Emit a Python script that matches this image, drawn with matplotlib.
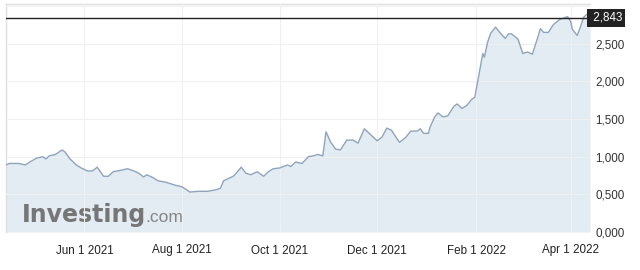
import matplotlib
matplotlib.use("Agg")
import matplotlib.pyplot as plt
import matplotlib.transforms as mtransforms
import pandas as pd

dates = [
    "2021-04-13", "2021-04-15", "2021-04-21", "2021-04-25", "2021-04-28", "2021-05-02",
    "2021-05-06", "2021-05-08", "2021-05-10", "2021-05-14", "2021-05-18", "2021-05-20",
    "2021-05-23", "2021-05-27", "2021-05-30", "2021-06-03", "2021-06-06", "2021-06-09",
    "2021-06-11", "2021-06-13", "2021-06-16", "2021-06-19", "2021-06-24", "2021-06-28",
    "2021-07-02", "2021-07-05", "2021-07-08", "2021-07-10", "2021-07-14", "2021-07-17",
    "2021-07-22", "2021-07-28", "2021-08-01", "2021-08-06", "2021-08-11", "2021-08-17",
    "2021-08-22", "2021-08-25", "2021-08-27", "2021-08-29", "2021-09-02", "2021-09-03",
    "2021-09-07", "2021-09-10", "2021-09-13", "2021-09-17", "2021-09-21", "2021-09-24",
    "2021-09-27", "2021-10-01", "2021-10-06", "2021-10-08", "2021-10-11", "2021-10-15",
    "2021-10-19", "2021-10-22", "2021-10-25", "2021-10-28", "2021-10-30", "2021-11-02",
    "2021-11-05", "2021-11-08", "2021-11-12", "2021-11-16", "2021-11-19", "2021-11-23",
    "2021-11-27", "2021-12-01", "2021-12-04", "2021-12-07", "2021-12-10", "2021-12-13",
    "2021-12-15", "2021-12-19", "2021-12-22", "2021-12-26", "2021-12-28", "2021-12-30",
    "2022-01-02", "2022-01-03", "2022-01-06", "2022-01-08", "2022-01-11", "2022-01-14",
    "2022-01-18", "2022-01-20", "2022-01-23", "2022-01-26", "2022-01-29", "2022-01-31",
    "2022-02-02", "2022-02-05", "2022-02-06", "2022-02-08", "2022-02-10", "2022-02-13",
    "2022-02-16", "2022-02-19", "2022-02-21", "2022-02-23", "2022-02-27", "2022-03-02",
    "2022-03-05", "2022-03-08", "2022-03-11", "2022-03-13", "2022-03-15", "2022-03-18",
    "2022-03-21", "2022-03-25", "2022-03-30", "2022-04-01", "2022-04-02", "2022-04-05",
    "2022-04-07", "2022-04-09", "2022-04-11", "2022-04-13",
]
values = [
    0.89, 0.91, 0.91, 0.89, 0.93, 0.98,
    1.00, 0.97, 1.01, 1.03, 1.09, 1.06,
    0.97, 0.89, 0.85, 0.81, 0.81, 0.86,
    0.80, 0.74, 0.74, 0.80, 0.82, 0.84,
    0.81, 0.78, 0.73, 0.76, 0.72, 0.68,
    0.66, 0.62, 0.60, 0.53, 0.54, 0.54,
    0.56, 0.58, 0.68, 0.70, 0.74, 0.76,
    0.86, 0.78, 0.76, 0.80, 0.74, 0.80,
    0.84, 0.85, 0.89, 0.87, 0.93, 0.91,
    1.00, 1.01, 1.03, 1.01, 1.33, 1.19,
    1.10, 1.09, 1.22, 1.22, 1.18, 1.37,
    1.29, 1.21, 1.26, 1.38, 1.35, 1.25,
    1.19, 1.26, 1.34, 1.34, 1.37, 1.31,
    1.31, 1.39, 1.53, 1.58, 1.53, 1.54,
    1.67, 1.70, 1.64, 1.68, 1.76, 1.79,
    2.02, 2.37, 2.32, 2.52, 2.64, 2.72,
    2.64, 2.57, 2.63, 2.63, 2.56, 2.37,
    2.39, 2.36, 2.56, 2.70, 2.65, 2.65,
    2.75, 2.82, 2.86, 2.79, 2.69, 2.61,
    2.72, 2.85, 2.89, 2.843,
]
last_value = 2.843
last_label = "2,843"

x_tick_dates = ["2021-06-01", "2021-08-01", "2021-10-01", "2021-12-01", "2022-02-01", "2022-04-01"]
x_tick_labels = ["Jun 1 2021", "Aug 1 2021", "Oct 1 2021", "Dec 1 2021", "Feb 1 2022", "Apr 1 2022"]
y_ticks = [0.0, 0.5, 1.0, 1.5, 2.0, 2.5, 3.0]
y_tick_labels = ["0,000", "0,500", "1,000", "1,500", "2,000", "2,500", ""]

x = pd.to_datetime(dates)
xt = pd.to_datetime(x_tick_dates)

fig = plt.figure(figsize=(6.4, 2.7), dpi=100)
fig.patch.set_facecolor("white")
ax = fig.add_axes([6 / 640, 38 / 270, 584 / 640, 228 / 270])
ax.set_facecolor("white")

ax.fill_between(x, values, 0, color="#e3ebf3", lw=0, zorder=1)
ax.plot(x, values, color="#8ea4bb", lw=1.0, zorder=3)

ax.set_xlim(pd.Timestamp("2021-04-13"), pd.Timestamp("2022-04-13"))
ax.set_ylim(0, 3.027)

ax.set_xticks(xt)
ax.set_xticklabels(x_tick_labels, fontfamily="Liberation Sans", fontsize=8.4, color="#222222")
ax.set_yticks(y_ticks)
ax.set_yticklabels(y_tick_labels, fontfamily="Liberation Sans", fontsize=8.4, color="#333333")
ax.yaxis.tick_right()
ax.tick_params(axis="x", length=0, pad=9)
ax.tick_params(axis="y", length=0, pad=4)

ax.grid(True, color="#eef0f2", lw=0.8, zorder=2)
ax.set_axisbelow(False)
for s in ["right", "bottom"]:
    ax.spines[s].set_visible(False)
for s in ["top", "left"]:
    ax.spines[s].set_color("#dedede")
    ax.spines[s].set_linewidth(1.0)

ax.axhline(last_value, color="#222222", lw=1.0, zorder=4)
trans = mtransforms.blended_transform_factory(ax.transAxes, ax.transData)
ax.text(1.0, last_value, " " + last_label, transform=trans, ha="left", va="center",
        fontfamily="Liberation Sans", fontsize=8.4, color="white", clip_on=False,
        bbox=dict(boxstyle="square,pad=0.25", fc="#222222", ec="none"), zorder=5)

ax.text(0.027, 0.045, "Investing", transform=ax.transAxes, ha="left", va="baseline",
        fontfamily="DejaVu Sans", fontweight="bold", fontsize=17, color="#767676", zorder=2)
ax.text(0.2395, 0.045, ".com", transform=ax.transAxes, ha="left", va="baseline",
        fontfamily="Liberation Sans", fontsize=12.5, color="#858585", zorder=2)

fig.savefig("out.png", dpi=100, facecolor="white")
